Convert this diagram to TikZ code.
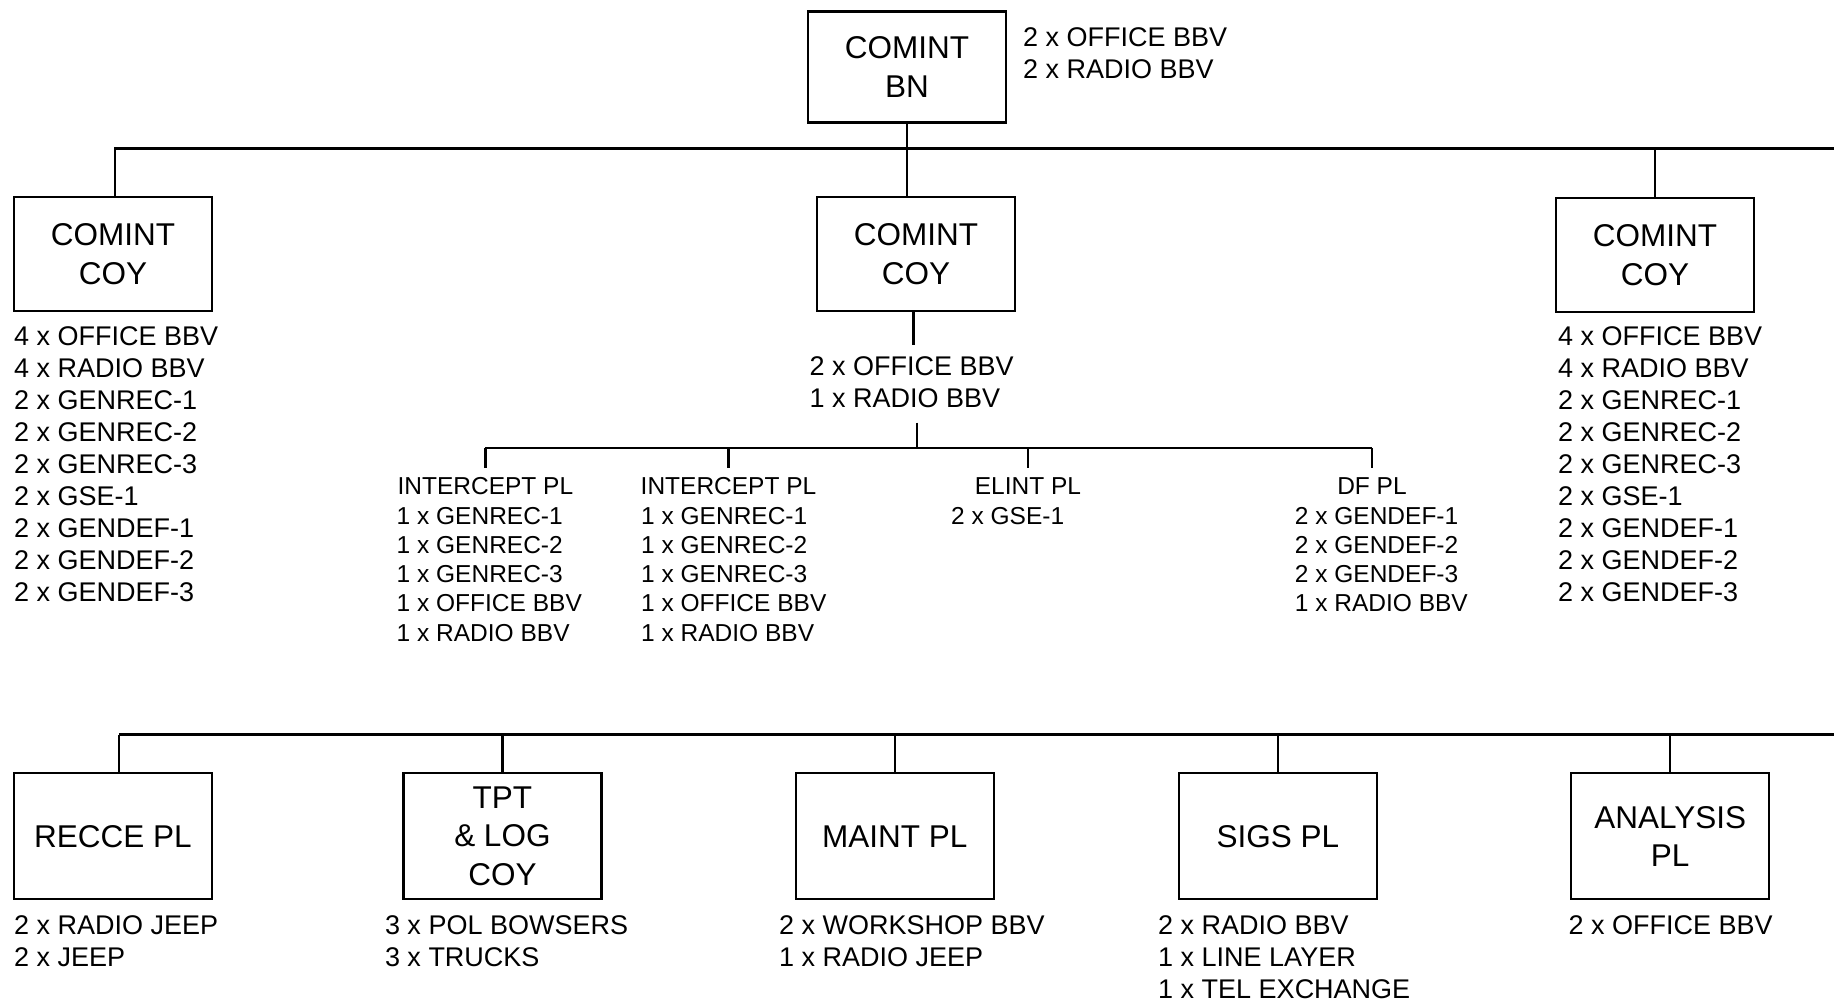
\documentclass[tikz,border=0pt]{standalone}
\usepackage{fontspec}
\setmainfont{Liberation Sans}
\usetikzlibrary{positioning}

\tikzset{
  unit/.style={draw,line width=2.2pt,inner sep=0pt,minimum width=198pt,align=center,
    font=\fontsize{31.5}{38.6}\selectfont},
  kit/.style={inner sep=0pt,align=left,anchor=north west,font=\fontsize{27}{32}\selectfont},
  plkit/.style={inner sep=0pt,align=left,anchor=north west,font=\fontsize{24.5}{29.2}\selectfont},
  pltitle/.style={inner sep=0pt,font=\fontsize{24.5}{29.2}\selectfont},
  link/.style={line width=2.2pt}
}

\begin{document}
\begin{tikzpicture}[x=1pt,y=-1pt]
  \useasboundingbox (0,0) rectangle (1834,1004);

  % battalion and companies
  \node[unit,minimum height=111pt] (bn) at (907,67) {COMINT\\BN};
  \node[kit] (bn-kit) at (1023,27.7) {2 x OFFICE BBV\\2 x RADIO BBV};
  \node[unit,minimum height=114pt] (coyA) at (113,254) {COMINT\\COY};
  \node[unit,minimum height=114pt] (coyB) at (916,254) {COMINT\\COY};
  \node[unit,minimum height=114pt] (coyC) at (1655,255) {COMINT\\COY};
  \node[kit] (coyA-kit) at (14,326) {4 x OFFICE BBV\\4 x RADIO BBV\\2 x GENREC-1\\2 x GENREC-2\\2 x GENREC-3\\2 x GSE-1\\2 x GENDEF-1\\2 x GENDEF-2\\2 x GENDEF-3};
  \node[kit] (coyC-kit) at (1558,326) {4 x OFFICE BBV\\4 x RADIO BBV\\2 x GENREC-1\\2 x GENREC-2\\2 x GENREC-3\\2 x GSE-1\\2 x GENDEF-1\\2 x GENDEF-2\\2 x GENDEF-3};
  \node[kit] (coyB-kit) at (809.4,356) {2 x OFFICE BBV\\1 x RADIO BBV};

  \coordinate (busA) at (1834,148.5);
  \coordinate (busAl) at (114.6,148.5);
  \draw[link] (busAl |- coyA.north) -- (busAl) -- (busA);
  \draw[link] (bn.south) -- (bn.south |- coyB.north);
  \draw[link] (coyC.north) -- (coyC.north |- busA);
  \draw[link,shorten >=11pt] (coyB.south -| 913.5,0) -- (coyB-kit.north -| 913.5,0);

  % platoons of the centre company
  \coordinate (plbus) at (917,448);
  \draw[link,shorten <=15pt] (coyB-kit.south -| plbus) -- (plbus);
  \foreach \nm/\cx/\lbl/\kx/\kit in {
    intA/485.4/INTERCEPT PL/396.5/{1 x GENREC-1\\1 x GENREC-2\\1 x GENREC-3\\1 x OFFICE BBV\\1 x RADIO BBV},
    intB/728.5/INTERCEPT PL/641/{1 x GENREC-1\\1 x GENREC-2\\1 x GENREC-3\\1 x OFFICE BBV\\1 x RADIO BBV},
    elint/1028/ELINT PL/951/{2 x GSE-1},
    df/1372/DF PL/1294.7/{2 x GENDEF-1\\2 x GENDEF-2\\2 x GENDEF-3\\1 x RADIO BBV}}{
    \node[pltitle] (\nm) at (\cx,486) {\lbl};
    \node[plkit] (\nm-kit) at (\kx,507) {\kit};
    \draw[link,shorten >=9pt] (\nm.north |- plbus) -- (\nm.north);
  }
  \draw[link] (intA.north |- plbus) -- (df.north |- plbus);

  % supporting sub-units
  \coordinate (busB) at (1834,734.5);
  \coordinate (busBl) at (119.3,734.5);
  \draw[link] (busBl) -- (busB);
  \foreach \nm/\cx/\lbl/\kx/\kit in {
    recce/113/RECCE PL/14/{2 x RADIO JEEP\\2 x JEEP},
    tpt/502.4/{TPT\\\& LOG\\COY}/384.8/{3 x POL BOWSERS\\3 x TRUCKS},
    maint/894.7/MAINT PL/779/{2 x WORKSHOP BBV\\1 x RADIO JEEP},
    sigs/1277.8/SIGS PL/1158/{2 x RADIO BBV\\1 x LINE LAYER\\1 x TEL EXCHANGE},
    analysis/1670.2/{ANALYSIS\\PL}/1568.4/{2 x OFFICE BBV}}{
    \node[unit,minimum height=126pt] (\nm) at (\cx,836.3) {\lbl};
    \node[kit] (\nm-kit) at (\kx,915.4) {\kit};
  }
  \draw[link] (busBl) -- (busBl |- recce.north);
  \foreach \nm in {tpt,maint,sigs,analysis}
    \draw[link] (\nm.north |- busB) -- (\nm.north);
\end{tikzpicture}
\end{document}
